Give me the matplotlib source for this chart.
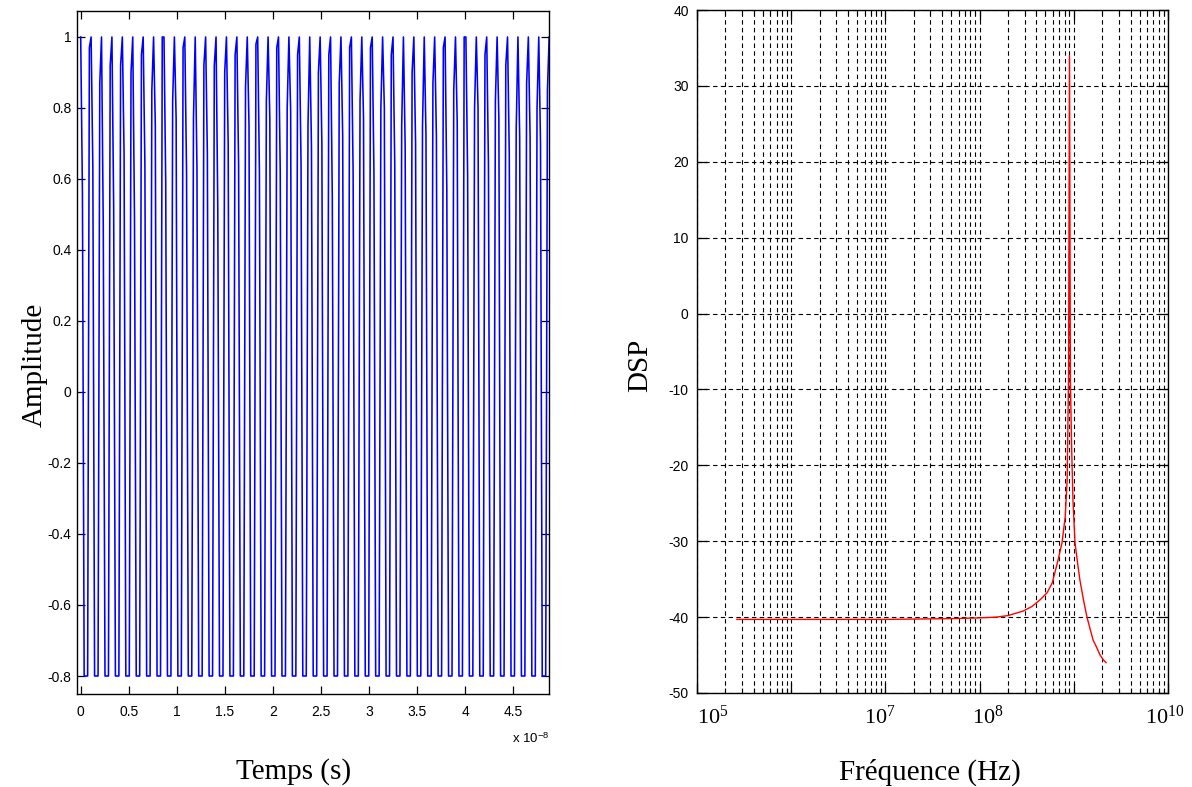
import matplotlib
matplotlib.use("Agg")
import matplotlib.pyplot as plt
import matplotlib.ticker as mticker
import matplotlib.transforms as mtransforms
import numpy as np

plt.rcParams['font.family'] = ['Liberation Sans', 'DejaVu Sans']
plt.rcParams['axes.unicode_minus'] = False
plt.rcParams['mathtext.fontset'] = 'custom'
plt.rcParams['mathtext.rm'] = 'Liberation Serif'
plt.rcParams['mathtext.it'] = 'Liberation Serif:italic'
plt.rcParams['mathtext.sf'] = 'Liberation Sans'

# ---------------- data: time signal (left) ----------------
period_s = 1.0833e-9          # one oscillation period (read from the spacing of the spikes)
samples_per_period = 6
bottom_level = -0.8
peak_level = [1.00, 1.00, 1.00, 1.00, 1.00, 1.00, 1.00, 1.00, 1.00, 1.00,
              1.00, 1.00, 1.00, 1.00, 1.00, 1.00, 1.00, 1.00, 1.00, 1.00,
              1.00, 1.00, 1.00, 1.00, 1.00, 1.00, 1.00, 1.00, 1.00, 1.00,
              1.00, 1.00, 1.00, 1.00, 1.00, 1.00, 1.00, 1.00, 1.00, 1.00,
              1.00, 1.00, 1.00, 1.00, 1.00, 1.00]
rise_level = [0.98, 0.97, 0.87, 0.92, 0.92, 0.90, 0.95, 0.85, 1.00, 0.82,
              0.97, 0.77, 0.92, 0.92, 0.90, 0.95, 0.86, 0.98, 0.82, 0.97,
              0.80, 0.95, 0.75, 0.90, 0.95, 0.87, 0.97, 0.82, 0.97, 0.80,
              0.95, 0.75, 0.90, 0.75, 0.87, 0.97, 0.85, 1.00, 0.80, 0.95,
              0.82, 0.92, 0.74, 0.87, 0.80, 0.85]
fall_level = [0.56, 0.63, 0.47, 0.52, 0.67, 0.49, 0.64, 0.75, 0.59, 0.77,
              0.62, 0.63, 0.67, 0.52, 0.70, 0.64, 0.75, 0.62, 0.77, 0.62,
              0.79, 0.64, 0.69, 0.70, 0.55, 0.72, 0.62, 0.77, 0.62, 0.80,
              0.64, 0.69, 0.70, 0.72, 0.72, 0.57, 0.76, 0.61, 0.80, 0.64,
              0.77, 0.67, 0.72, 0.72, 0.70, 0.60]

# ---------------- data: spectrum (right) ----------------
freq_hz = [2.65e5, 1e6, 1e7, 5e7, 1e8, 1.5e8, 2e8, 2.9e8, 3.6e8, 4.4e8,
           5.2e8, 5.9e8, 6.8e8, 7.5e8, 8.1e8, 8.5e8, 8.8e8, 9.0e8, 9.2e8,
           9.5e8, 9.8e8, 1.03e9, 1.1e9, 1.16e9, 1.27e9, 1.38e9, 1.6e9,
           1.75e9, 1.9e9, 2.05e9, 2.2e9]
dsp_db = [-40.3, -40.3, -40.3, -40.2, -40.1, -40.0, -39.8, -39.2, -38.6, -37.7,
          -36.8, -35.5, -32.5, -30.2, -26.8, -22.0, -8.0, 34.0, -9.0,
          -18.0, -24.6, -30.2, -33.0, -35.1, -37.8, -40.0, -43.0,
          -44.0, -45.0, -45.6, -46.0]

left_xtick_vals = [0, 0.5, 1, 1.5, 2, 2.5, 3, 3.5, 4, 4.5]
left_ytick_vals = [-0.8, -0.6, -0.4, -0.2, 0, 0.2, 0.4, 0.6, 0.8, 1]
right_ytick_vals = [-50, -40, -30, -20, -10, 0, 10, 20, 30, 40]
right_xtick_labels = {1e5: r'$\mathrm{10^{5}}$', 1e7: r'$\mathrm{10^{7}}$',
                      1e8: r'$\mathrm{10^{8}}$', 1e10: r'$\mathrm{10^{10}}$'}

# build the sampled waveform from the per-cycle levels
dt = period_s / samples_per_period
t_idx, y_vals = [], []
n = len(peak_level)
for k in range(n):
    base = samples_per_period * k
    if k > 0:
        t_idx.append(base - 1); y_vals.append(rise_level[k])
    t_idx.append(base); y_vals.append(peak_level[k])
    if k < n - 1:
        t_idx.append(base + 1); y_vals.append(fall_level[k])
        for j in (2, 3, 4):
            t_idx.append(base + j); y_vals.append(bottom_level)
t_s = np.array(t_idx) * dt
y_vals = np.array(y_vals)

W, H = 1192, 787
fig = plt.figure(figsize=(W / 100, H / 100), dpi=100)
ax1 = fig.add_axes([77 / W, 1 - 694 / H, 472 / W, 683 / H])
ax2 = fig.add_axes([697 / W, 1 - 693 / H, 471 / W, 683 / H])

def fmt(v):
    return '%g' % v

# ---- left ----
ax1.plot(t_s, y_vals, color=(0, 0, 1), lw=1.15)
ax1.set_xlim(-0.0385e-8, 4.873e-8)
ax1.set_ylim(-0.8507, 1.0732)
ax1.set_xticks([v * 1e-8 for v in left_xtick_vals])
ax1.set_xticklabels([fmt(v) for v in left_xtick_vals])
ax1.set_yticks(left_ytick_vals)
ax1.set_yticklabels([fmt(round(v, 1)) for v in left_ytick_vals])
ax1.tick_params(direction='in', top=True, right=True, length=5.5, width=0.9,
                labelsize=10, colors='k')
ax1.tick_params(axis='x', pad=8)
ax1.tick_params(axis='y', pad=4)
for sp in ax1.spines.values():
    sp.set_linewidth(1.0)
ax1.text(1.0, -0.065, r'x 10$^{\mathsf{-8}}$', transform=ax1.transAxes,
         ha='right', va='center', fontsize=9.5)

# ---- right ----
ax2.plot(freq_hz, dsp_db, color=(1, 0, 0), lw=1.0)
ax2.set_xscale('log')
ax2.set_xlim(1e5, 1e10)
ax2.set_ylim(-50, 40)
ax2.set_yticks(right_ytick_vals)
ax2.yaxis.set_major_formatter(mticker.FuncFormatter(lambda v, p: '%d' % v))
ax2.xaxis.set_major_locator(mticker.LogLocator(base=10, numticks=20))
ax2.xaxis.set_minor_locator(mticker.LogLocator(base=10, subs=np.arange(2, 10), numticks=100))
ax2.xaxis.set_major_formatter(mticker.FuncFormatter(
    lambda v, p: right_xtick_labels.get(float('%.0e' % v), '')))
ax2.xaxis.set_minor_formatter(mticker.NullFormatter())
ax2.grid(True, which='both', axis='x', color='k', linestyle=(0, (4, 3)), lw=0.8)
ax2.grid(True, which='major', axis='y', color='k', linestyle=(0, (4, 3)), lw=0.8)
ax2.tick_params(which='major', direction='in', top=True, right=True, length=7, width=0.9,
                labelsize=10, colors='k')
ax2.tick_params(which='minor', direction='in', top=True, right=True, length=3.5, width=0.8)
ax2.tick_params(axis='x', which='major', labelsize=16, pad=9)
ax2.tick_params(axis='y', pad=6)
for sp in ax2.spines.values():
    sp.set_linewidth(1.0)

fig.canvas.draw()
shifts = {right_xtick_labels[1e7]: -6, right_xtick_labels[1e8]: 8,
          right_xtick_labels[1e10]: -3}
for lbl in ax2.get_xticklabels():
    txt = lbl.get_text()
    if txt == right_xtick_labels[1e5]:
        lbl.set_ha('left')
    elif txt in shifts:
        lbl.set_transform(lbl.get_transform() + mtransforms.ScaledTranslation(
            shifts[txt] / 100, 0, fig.dpi_scale_trans))

serif = ['Liberation Serif', 'DejaVu Serif']
fig.text(35 / W, 1 - 365 / H, 'Amplitude', rotation=90, ha='center', va='center',
         fontsize=21, family=serif)
fig.text(294 / W, 1 - 772 / H, 'Temps (s)', ha='center', va='center',
         fontsize=21, family=serif)
fig.text(640 / W, 1 - 365 / H, 'DSP', rotation=90, ha='center', va='center',
         fontsize=21, family=serif)
fig.text(930 / W, 1 - 772 / H, 'Fréquence (Hz)', ha='center', va='center',
         fontsize=21, family=serif)

fig.savefig('out.png', dpi=100)
